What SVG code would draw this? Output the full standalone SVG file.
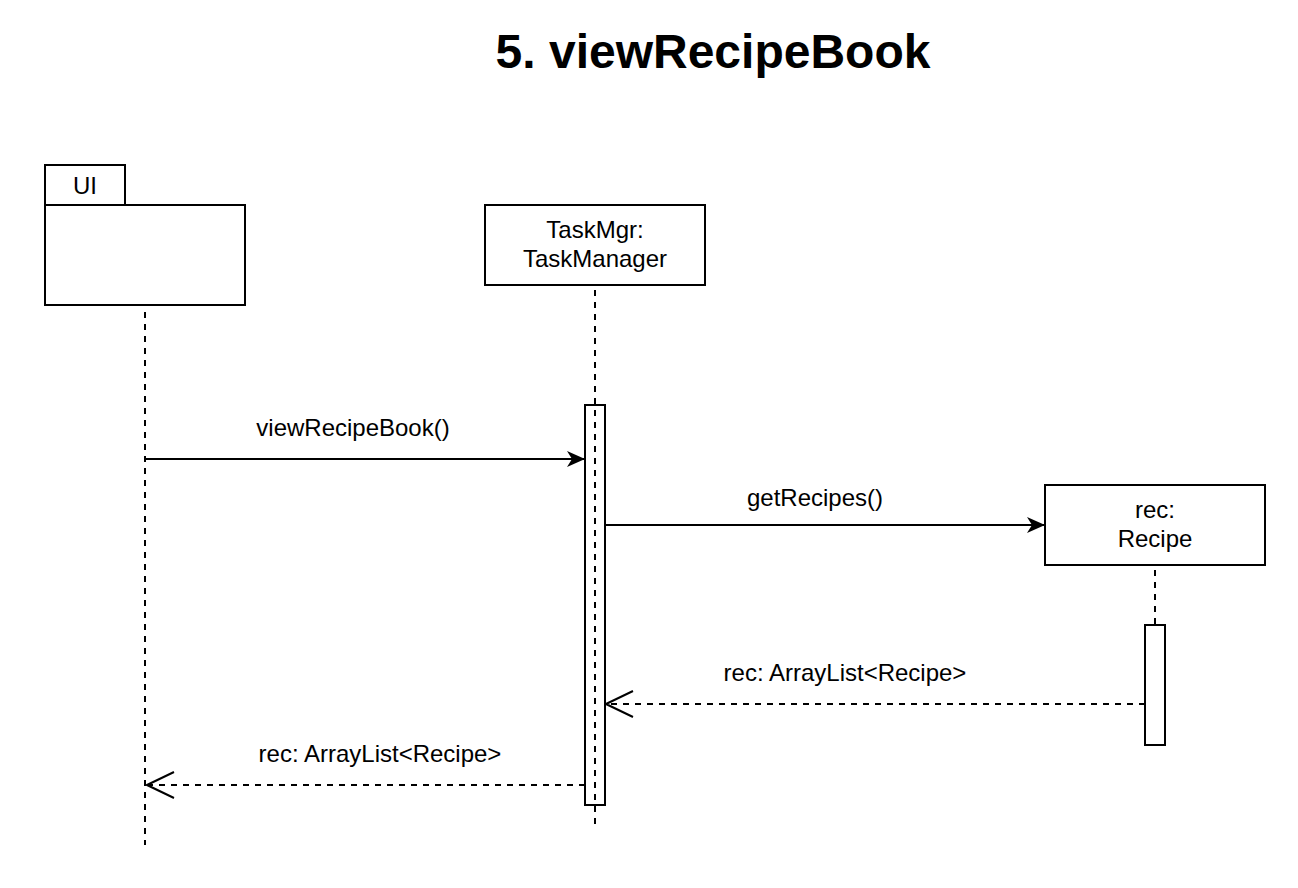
<svg xmlns="http://www.w3.org/2000/svg" width="1298" height="888" viewBox="0 0 1298 888">
<defs>
<style>
.box{fill:#fff;stroke:#000;stroke-width:2}
.life{stroke:#000;stroke-width:2;stroke-dasharray:6 6;fill:none}
.msg{stroke:#000;stroke-width:2;fill:none}
.ret{stroke:#000;stroke-width:2;stroke-dasharray:6 6;fill:none}
.t{font-family:"Liberation Sans",Arial,Helvetica,sans-serif;font-size:24px;fill:#000;text-anchor:middle}
.title{font-family:"Liberation Sans",Arial,Helvetica,sans-serif;font-size:48px;font-weight:bold;fill:#000;text-anchor:middle}
</style>
<marker id="filled" markerWidth="20" markerHeight="16" refX="18" refY="8" orient="auto" markerUnits="userSpaceOnUse">
<path d="M0,0 L18,8 L0,16 L5,8 Z" fill="#000"/>
</marker>
<marker id="open" markerWidth="30" markerHeight="32" refX="28" refY="15" orient="auto" markerUnits="userSpaceOnUse">
<path d="M1,2 L28,15 L1,28" fill="none" stroke="#000" stroke-width="2"/>
</marker>
</defs>
<rect width="1298" height="888" fill="#fff"/>
<text class="title" x="713" y="68">5. viewRecipeBook</text>

<g id="ui">
<rect class="box" x="45" y="165" width="80" height="40"/>
<rect class="box" x="45" y="205" width="200" height="100"/>
<text class="t" x="85" y="194">UI</text>
<line class="life" x1="145" y1="312" x2="145" y2="845"/>
</g>

<g id="taskmgr">
<rect class="box" x="485" y="205" width="220" height="80"/>
<text class="t" x="595" y="238">TaskMgr:</text>
<text class="t" x="595" y="267">TaskManager</text>
<line class="life" x1="595" y1="290" x2="595" y2="825"/>
<rect x="585" y="405" width="20" height="400" fill="none" stroke="#000" stroke-width="2"/>
</g>

<g id="recipe">
<rect class="box" x="1045" y="485" width="220" height="80"/>
<text class="t" x="1155" y="518">rec:</text>
<text class="t" x="1155" y="547">Recipe</text>
<line class="life" x1="1155" y1="570" x2="1155" y2="625"/>
<rect class="box" x="1145" y="625" width="20" height="120"/>
</g>

<g id="connectors">
<line class="msg" x1="145" y1="459" x2="585" y2="459" marker-end="url(#filled)"/>
<text class="t" x="353" y="436">viewRecipeBook()</text>
<line class="msg" x1="605" y1="525" x2="1045" y2="525" marker-end="url(#filled)"/>
<text class="t" x="815" y="506">getRecipes()</text>
<line class="ret" x1="1145" y1="704" x2="606" y2="704" marker-end="url(#open)"/>
<text class="t" x="845" y="681">rec: ArrayList&lt;Recipe&gt;</text>
<line class="ret" x1="585" y1="785" x2="147" y2="785" marker-end="url(#open)"/>
<text class="t" x="380" y="762">rec: ArrayList&lt;Recipe&gt;</text>
</g>
</svg>
